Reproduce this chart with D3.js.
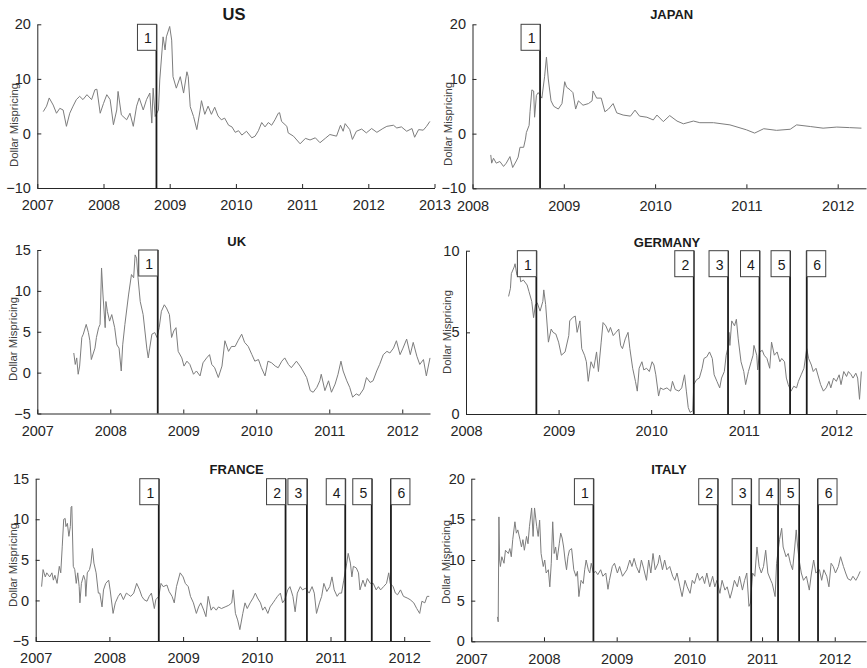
<!DOCTYPE html>
<html>
<head>
<meta charset="utf-8">
<script src="https://cdn.jsdelivr.net/npm/d3@7"></script>
<style>
  body { margin: 0; background: #fff; }
  svg { font-family: "Liberation Sans", Arial, sans-serif; }
</style>
</head>
<body>
<div id="chart"></div>
<script>
// values, [decimal year, dollar mispricing]
const usSeries = [
  [2007.09,4.0],[2007.14,5.0],[2007.18,6.5],[2007.24,5.2],[2007.29,3.7],[2007.34,4.6],[2007.39,4.3],[2007.44,1.3],
  [2007.49,3.7],[2007.54,5.0],[2007.59,6.2],[2007.64,6.8],[2007.69,6.2],[2007.75,7.1],[2007.82,6.2],[2007.87,8.0],
  [2007.90,8.1],[2007.95,3.7],[2008.00,5.5],[2008.05,7.1],[2008.10,6.2],[2008.15,1.6],[2008.20,4.3],[2008.22,7.7],
  [2008.27,3.4],[2008.35,2.5],[2008.40,3.7],[2008.45,1.3],[2008.50,5.0],[2008.54,6.5],[2008.60,4.3],[2008.65,6.2],
  [2008.70,7.4],[2008.73,1.9],[2008.75,8.3],[2008.78,3.1],[2008.83,4.3],[2008.85,9.8],[2008.90,17.7],[2008.93,15.3],
  [2008.95,17.7],[2009.00,19.6],[2009.03,17.1],[2009.05,10.4],[2009.10,8.3],[2009.16,10.4],[2009.21,7.4],[2009.26,11.3],
  [2009.28,10.4],[2009.31,4.9],[2009.36,3.1],[2009.41,0.7],[2009.46,4.3],[2009.48,6.0],[2009.53,3.5],[2009.58,5.0],
  [2009.63,3.5],[2009.68,4.8],[2009.73,3.2],[2009.78,2.5],[2009.83,2.8],[2009.89,1.5],[2009.94,1.2],[2009.99,0.2],
  [2010.04,0.5],[2010.09,-0.3],[2010.16,0.4],[2010.24,-0.8],[2010.29,-0.5],[2010.34,0.5],[2010.39,2.0],[2010.44,1.2],
  [2010.49,2.0],[2010.54,1.5],[2010.59,2.5],[2010.64,3.7],[2010.66,3.8],[2010.69,2.2],[2010.77,1.3],[2010.79,0.1],
  [2010.87,-0.5],[2010.97,-1.9],[2011.05,-0.9],[2011.12,-1.2],[2011.20,-0.8],[2011.27,-1.7],[2011.35,-0.9],[2011.42,-0.2],
  [2011.52,-0.5],[2011.58,1.5],[2011.62,0.4],[2011.65,1.8],[2011.72,0.7],[2011.76,-1.1],[2011.82,0.4],[2011.90,0.8],
  [2011.97,0.1],[2012.05,0.9],[2012.13,0.2],[2012.22,0.9],[2012.28,1.3],[2012.38,1.5],[2012.43,1.0],[2012.50,1.2],
  [2012.58,0.4],[2012.66,0.9],[2012.70,-0.7],[2012.76,0.7],[2012.83,0.6],[2012.88,1.3],[2012.93,2.2]
];
const japanSeries = [
  [2008.20,-3.9],[2008.21,-5.4],[2008.23,-4.5],[2008.26,-5.4],[2008.30,-5.1],[2008.34,-6.0],[2008.37,-5.4],[2008.41,-4.2],
  [2008.44,-6.2],[2008.48,-5.0],[2008.50,-4.3],[2008.52,-2.5],[2008.56,-2.5],[2008.58,-1.0],[2008.59,0.2],[2008.62,1.5],
  [2008.63,4.0],[2008.65,8.0],[2008.67,7.8],[2008.68,3.0],[2008.70,7.0],[2008.72,7.5],[2008.74,7.0],[2008.76,6.5],
  [2008.79,10.5],[2008.81,14.0],[2008.83,10.0],[2008.86,6.0],[2008.89,5.0],[2008.94,4.5],[2008.98,5.5],[2009.01,9.5],
  [2009.03,8.5],[2009.07,8.0],[2009.10,7.5],[2009.13,4.5],[2009.16,6.0],[2009.21,5.2],[2009.27,5.5],[2009.31,6.0],
  [2009.32,7.8],[2009.36,6.5],[2009.41,6.5],[2009.45,4.0],[2009.49,4.5],[2009.54,5.5],[2009.58,3.8],[2009.65,3.4],
  [2009.73,3.2],[2009.78,4.3],[2009.83,3.2],[2009.91,3.0],[2009.98,2.5],[2010.02,3.4],[2010.09,2.2],[2010.16,3.3],
  [2010.24,2.3],[2010.31,1.8],[2010.42,2.3],[2010.49,2.0],[2010.64,2.0],[2010.82,1.6],[2011.00,0.7],[2011.09,0.1],
  [2011.19,0.9],[2011.33,0.6],[2011.48,0.8],[2011.55,1.6],[2011.70,1.3],[2011.84,1.0],[2011.99,1.2],[2012.13,1.1],
  [2012.26,1.0]
];
const ukSeries = [
  [2007.50,2.4],[2007.52,1.0],[2007.54,1.8],[2007.56,-0.2],[2007.58,0.8],[2007.61,4.3],[2007.63,4.7],[2007.67,5.9],
  [2007.70,4.9],[2007.72,3.9],[2007.74,1.6],[2007.79,3.0],[2007.81,4.3],[2007.84,5.5],[2007.86,5.9],[2007.88,12.8],
  [2007.90,9.5],[2007.93,5.5],[2007.94,8.7],[2007.96,7.5],[2007.99,6.3],[2008.02,7.1],[2008.06,5.5],[2008.09,3.4],
  [2008.12,3.0],[2008.15,0.2],[2008.17,3.4],[2008.20,5.9],[2008.25,9.5],[2008.29,12.0],[2008.32,11.6],[2008.34,14.4],
  [2008.36,14.0],[2008.38,11.6],[2008.41,8.7],[2008.45,7.1],[2008.50,3.0],[2008.52,1.8],[2008.54,3.0],[2008.57,4.7],
  [2008.61,4.9],[2008.64,4.3],[2008.67,5.5],[2008.70,7.5],[2008.74,8.3],[2008.77,7.9],[2008.81,7.1],[2008.84,4.3],
  [2008.87,5.1],[2008.90,5.5],[2008.93,2.6],[2008.98,1.8],[2009.01,0.8],[2009.05,1.4],[2009.09,1.0],[2009.14,-0.2],
  [2009.18,0.2],[2009.23,-0.4],[2009.27,1.2],[2009.32,1.8],[2009.36,2.2],[2009.39,1.0],[2009.43,0.6],[2009.48,-0.6],
  [2009.53,0.8],[2009.57,3.9],[2009.62,2.6],[2009.66,3.2],[2009.71,3.2],[2009.75,3.9],[2009.80,4.7],[2009.84,3.7],
  [2009.89,3.2],[2009.94,2.2],[2009.98,1.4],[2010.03,1.6],[2010.07,0.6],[2010.12,-0.4],[2010.16,1.4],[2010.21,1.2],
  [2010.26,0.8],[2010.30,0.6],[2010.35,1.4],[2010.39,1.8],[2010.44,1.0],[2010.48,0.6],[2010.55,1.4],[2010.60,0.8],
  [2010.64,0.2],[2010.69,-0.6],[2010.74,-2.2],[2010.78,-2.4],[2010.83,-1.8],[2010.87,-1.0],[2010.89,-0.2],[2010.94,-2.2],
  [2010.99,-1.0],[2011.03,-2.4],[2011.08,-1.4],[2011.12,-0.2],[2011.16,1.4],[2011.19,0.2],[2011.24,-1.0],[2011.28,-1.8],
  [2011.32,-3.0],[2011.37,-2.6],[2011.41,-2.8],[2011.47,-2.0],[2011.51,-0.6],[2011.56,-1.2],[2011.60,-1.0],[2011.65,0.2],
  [2011.69,1.0],[2011.74,2.2],[2011.79,2.6],[2011.83,2.4],[2011.88,3.0],[2011.92,3.9],[2011.97,2.2],[2012.01,3.0],
  [2012.06,4.1],[2012.11,2.2],[2012.15,3.7],[2012.20,2.0],[2012.24,1.0],[2012.29,1.6],[2012.33,-0.4],[2012.38,1.8]
];
const germanySeries = [
  [2008.46,7.2],[2008.48,7.7],[2008.49,8.6],[2008.52,9.0],[2008.53,9.2],[2008.55,8.5],[2008.58,8.6],[2008.59,8.1],
  [2008.62,8.2],[2008.66,7.9],[2008.68,7.5],[2008.71,6.9],[2008.73,5.9],[2008.75,6.7],[2008.77,6.8],[2008.80,6.3],
  [2008.83,6.9],[2008.84,7.6],[2008.86,6.7],[2008.89,4.4],[2008.92,5.2],[2008.94,5.0],[2008.97,4.9],[2009.00,4.4],
  [2009.03,3.6],[2009.07,3.8],[2009.11,4.8],[2009.12,5.7],[2009.15,5.9],[2009.18,6.0],[2009.20,5.0],[2009.23,5.7],
  [2009.25,4.0],[2009.28,3.6],[2009.30,3.2],[2009.32,2.0],[2009.35,3.2],[2009.38,2.8],[2009.41,3.8],[2009.43,2.6],
  [2009.46,4.4],[2009.48,5.6],[2009.51,5.4],[2009.54,5.0],[2009.56,5.3],[2009.59,4.8],[2009.62,5.0],[2009.65,5.2],
  [2009.67,4.2],[2009.69,4.0],[2009.72,4.6],[2009.75,5.0],[2009.77,4.0],[2009.80,2.8],[2009.83,2.0],[2009.85,1.4],
  [2009.87,2.8],[2009.90,3.2],[2009.92,2.7],[2009.95,2.8],[2009.98,2.6],[2010.01,3.2],[2010.03,3.0],[2010.05,2.4],
  [2010.08,1.1],[2010.10,1.6],[2010.13,1.5],[2010.17,1.6],[2010.21,1.4],[2010.23,2.0],[2010.26,1.5],[2010.30,1.4],
  [2010.33,1.6],[2010.36,2.4],[2010.38,1.4],[2010.40,0.4],[2010.42,0.1],[2010.45,0.2],[2010.46,1.8],[2010.49,2.1],
  [2010.52,2.2],[2010.55,2.8],[2010.57,3.4],[2010.60,3.5],[2010.63,3.8],[2010.66,3.4],[2010.68,2.4],[2010.71,2.0],
  [2010.74,1.6],[2010.76,2.2],[2010.79,2.6],[2010.81,3.6],[2010.83,4.1],[2010.84,5.0],[2010.85,4.2],[2010.87,5.7],
  [2010.90,5.4],[2010.92,5.8],[2010.94,4.6],[2010.97,3.2],[2011.00,2.6],[2011.02,1.8],[2011.05,2.6],[2011.08,3.2],
  [2011.10,3.6],[2011.11,4.2],[2011.14,3.6],[2011.15,2.7],[2011.17,3.8],[2011.20,3.9],[2011.22,3.6],[2011.25,3.4],
  [2011.28,2.8],[2011.30,4.4],[2011.33,3.6],[2011.36,3.8],[2011.39,3.2],[2011.41,3.4],[2011.44,3.2],[2011.46,2.2],
  [2011.48,1.8],[2011.51,1.4],[2011.54,1.7],[2011.57,1.6],[2011.59,2.0],[2011.62,2.4],[2011.65,2.8],[2011.68,4.0],
  [2011.70,3.4],[2011.73,3.0],[2011.75,2.6],[2011.78,2.8],[2011.81,2.2],[2011.83,1.8],[2011.86,1.4],[2011.89,1.6],
  [2011.92,2.0],[2011.94,1.6],[2011.97,2.2],[2012.00,2.0],[2012.03,2.4],[2012.05,1.8],[2012.08,2.6],[2012.11,2.3],
  [2012.13,2.6],[2012.16,2.4],[2012.18,2.2],[2012.21,2.5],[2012.23,2.2],[2012.25,0.9],[2012.27,2.6]
];
const franceSeries = [
  [2007.08,1.7],[2007.10,3.8],[2007.13,2.9],[2007.15,3.4],[2007.19,2.9],[2007.22,3.4],[2007.24,2.5],[2007.26,3.1],
  [2007.29,2.1],[2007.32,4.2],[2007.34,3.4],[2007.36,6.6],[2007.38,10.0],[2007.40,10.1],[2007.41,9.1],[2007.43,9.5],
  [2007.45,7.9],[2007.47,9.1],[2007.48,11.5],[2007.49,11.6],[2007.51,4.2],[2007.53,3.8],[2007.55,2.1],[2007.57,3.4],
  [2007.59,1.7],[2007.60,-0.3],[2007.62,2.1],[2007.65,3.1],[2007.67,2.5],[2007.68,0.5],[2007.70,3.4],[2007.73,3.8],
  [2007.75,4.6],[2007.77,6.4],[2007.79,4.6],[2007.82,3.4],[2007.85,0.9],[2007.87,0.9],[2007.90,-0.8],[2007.92,1.3],
  [2007.95,2.1],[2007.99,2.5],[2008.01,1.3],[2008.05,-1.6],[2008.08,-0.3],[2008.12,0.5],[2008.15,0.9],[2008.19,0.1],
  [2008.23,0.9],[2008.26,0.7],[2008.29,0.5],[2008.33,0.9],[2008.37,2.1],[2008.41,1.3],[2008.44,0.5],[2008.47,0.1],
  [2008.51,-0.1],[2008.54,0.5],[2008.57,0.9],[2008.61,-1.0],[2008.63,0.1],[2008.67,0.5],[2008.70,2.1],[2008.73,1.7],
  [2008.78,1.9],[2008.81,1.1],[2008.85,0.5],[2008.88,-0.3],[2008.91,1.7],[2008.96,3.4],[2009.00,2.9],[2009.03,2.1],
  [2009.07,1.7],[2009.10,0.5],[2009.14,-0.3],[2009.18,-1.6],[2009.21,-0.8],[2009.24,-0.3],[2009.28,-1.2],[2009.31,-2.0],
  [2009.34,0.5],[2009.38,-1.2],[2009.41,-0.8],[2009.45,-1.2],[2009.48,-0.8],[2009.52,-1.0],[2009.57,-0.8],[2009.62,-0.6],
  [2009.66,-0.3],[2009.68,1.3],[2009.71,-1.6],[2009.74,-2.4],[2009.77,-3.6],[2009.81,-1.6],[2009.84,-0.3],[2009.87,-1.0],
  [2009.91,-0.3],[2009.95,0.3],[2009.98,0.9],[2010.01,0.3],[2010.05,-0.3],[2010.08,-1.2],[2010.11,-0.8],[2010.15,-1.6],
  [2010.18,-0.8],[2010.22,-0.3],[2010.25,0.1],[2010.28,0.5],[2010.32,0.9],[2010.35,-0.3],[2010.38,0.1],[2010.42,1.3],
  [2010.45,1.7],[2010.49,0.5],[2010.52,-1.4],[2010.55,0.9],[2010.59,1.7],[2010.62,1.3],[2010.66,1.5],[2010.71,0.9],
  [2010.75,1.7],[2010.78,0.9],[2010.81,-1.6],[2010.85,-0.3],[2010.88,0.5],[2010.91,2.1],[2010.95,1.1],[2010.99,1.7],
  [2011.02,2.9],[2011.05,1.3],[2011.09,0.5],[2011.12,0.9],[2011.15,0.9],[2011.18,2.5],[2011.22,4.6],[2011.24,5.8],
  [2011.27,4.6],[2011.29,2.9],[2011.31,4.2],[2011.35,4.0],[2011.38,3.4],[2011.40,1.3],[2011.44,2.5],[2011.47,1.7],
  [2011.50,2.7],[2011.54,2.1],[2011.58,2.1],[2011.62,1.3],[2011.65,1.7],[2011.68,1.3],[2011.72,1.7],[2011.76,2.1],
  [2011.79,3.4],[2011.81,2.1],[2011.85,1.7],[2011.88,0.9],[2011.91,0.7],[2011.95,1.3],[2011.99,0.5],[2012.04,0.3],
  [2012.08,0.1],[2012.13,-0.3],[2012.17,-1.0],[2012.21,-1.6],[2012.24,-0.1],[2012.28,-0.3],[2012.31,0.5],[2012.34,0.5]
];
const italySeries = [
  [2007.36,3.0],[2007.37,2.4],[2007.38,15.3],[2007.39,10.0],[2007.40,9.2],[2007.42,10.4],[2007.45,9.6],[2007.47,11.2],
  [2007.51,10.8],[2007.53,11.4],[2007.55,10.4],[2007.57,12.5],[2007.60,14.7],[2007.62,13.3],[2007.64,13.7],[2007.67,12.5],
  [2007.69,11.6],[2007.71,12.5],[2007.73,11.2],[2007.76,12.9],[2007.78,12.0],[2007.80,14.1],[2007.83,16.4],[2007.85,12.9],
  [2007.87,16.4],[2007.90,14.1],[2007.92,12.9],[2007.94,14.9],[2007.96,10.8],[2007.99,9.2],[2008.01,10.0],[2008.03,8.4],
  [2008.06,8.8],[2008.08,6.7],[2008.10,9.6],[2008.12,14.7],[2008.14,10.8],[2008.16,11.6],[2008.18,10.0],[2008.21,12.0],
  [2008.23,13.3],[2008.25,12.7],[2008.27,11.6],[2008.29,10.0],[2008.31,8.8],[2008.33,10.4],[2008.35,11.2],[2008.38,11.4],
  [2008.41,8.8],[2008.44,8.0],[2008.46,8.6],[2008.48,5.5],[2008.51,7.5],[2008.54,7.1],[2008.56,8.8],[2008.58,10.0],
  [2008.61,8.8],[2008.63,8.4],[2008.65,9.6],[2008.68,8.4],[2008.71,8.6],[2008.74,8.2],[2008.78,8.8],[2008.81,8.0],
  [2008.85,8.4],[2008.88,6.4],[2008.90,7.5],[2008.94,9.2],[2008.97,9.6],[2009.01,8.4],[2009.04,9.2],[2009.08,8.0],
  [2009.11,8.4],[2009.14,8.8],[2009.18,10.0],[2009.21,9.2],[2009.24,10.2],[2009.27,9.2],[2009.31,8.4],[2009.34,10.0],
  [2009.37,9.0],[2009.41,7.5],[2009.44,10.0],[2009.47,8.4],[2009.50,10.8],[2009.53,8.8],[2009.57,9.6],[2009.59,10.6],
  [2009.63,8.8],[2009.66,10.0],[2009.69,8.8],[2009.73,9.2],[2009.77,8.0],[2009.80,7.5],[2009.83,8.4],[2009.87,6.7],
  [2009.90,5.5],[2009.94,7.5],[2009.97,6.7],[2010.01,5.9],[2010.04,7.5],[2010.07,7.1],[2010.11,8.4],[2010.14,7.5],
  [2010.18,8.0],[2010.21,7.1],[2010.24,8.4],[2010.28,6.7],[2010.32,8.0],[2010.35,6.7],[2010.38,7.5],[2010.42,5.9],
  [2010.45,7.5],[2010.49,6.3],[2010.52,6.7],[2010.56,5.3],[2010.59,6.3],[2010.62,7.5],[2010.66,6.7],[2010.69,8.0],
  [2010.73,6.3],[2010.76,7.5],[2010.79,8.4],[2010.82,4.3],[2010.84,4.7],[2010.87,8.4],[2010.90,8.0],[2010.93,11.6],
  [2010.96,9.2],[2010.99,8.4],[2011.02,9.2],[2011.05,11.2],[2011.08,8.4],[2011.12,7.5],[2011.14,7.1],[2011.18,5.5],
  [2011.20,9.6],[2011.24,12.5],[2011.27,13.9],[2011.29,11.6],[2011.33,10.4],[2011.36,10.8],[2011.39,9.6],[2011.42,8.8],
  [2011.45,11.6],[2011.47,13.7],[2011.49,11.6],[2011.51,10.0],[2011.54,8.4],[2011.57,7.5],[2011.61,8.0],[2011.65,6.3],
  [2011.68,8.4],[2011.71,10.0],[2011.74,8.4],[2011.79,8.8],[2011.82,7.5],[2011.85,8.8],[2011.89,8.0],[2011.92,6.7],
  [2011.95,9.6],[2011.98,9.2],[2012.01,8.4],[2012.05,9.2],[2012.08,10.4],[2012.12,9.2],[2012.15,8.4],[2012.18,7.7],
  [2012.22,7.5],[2012.25,8.0],[2012.29,7.5],[2012.32,8.0],[2012.35,8.6]
];

// event dates (vertical lines) per country
const usEvents = [2008.80];
const japanEvents = [2008.74];
const ukEvents = [2008.65];
const germanyEvents = [2008.76, 2010.46, 2010.83, 2011.17, 2011.50, 2011.68];
const franceEvents = [2008.67, 2010.39, 2010.68, 2011.20, 2011.56, 2011.82];
const italyEvents = [2008.68, 2010.39, 2010.85, 2011.22, 2011.51, 2011.77];
const eventLabels = ["1", "2", "3", "4", "5", "6"];

const titles = ["US", "JAPAN", "UK", "GERMANY", "FRANCE", "ITALY"];
const yLabel = "Dollar Mispricing";

const panels = [
    {title: titles[0], data: usSeries, events: usEvents,
     left: 37.3, right: 434.5, top: 24.3, bottom: 188,
     xDomain: [2007, 2013], yDomain: [-10, 20], yTicks: [-10, 0, 10, 20],
     titleX: 234, titleY: 20, titleSize: 16.5, labX: 14, labY: 125},
    {title: titles[1], data: japanSeries, events: japanEvents,
     left: 472.5, right: 866, top: 24.3, bottom: 188.3,
     xDomain: [2008, 2012.31], yDomain: [-10, 20], yTicks: [-10, 0, 10, 20],
     titleX: 671.7, titleY: 18.7, titleSize: 13, labX: 447.5, labY: 124},
    {title: titles[2], data: ukSeries, events: ukEvents,
     left: 37.3, right: 430, top: 250, bottom: 413.5,
     xDomain: [2007, 2012.38], yDomain: [-5, 15], yTicks: [-5, 0, 5, 10, 15],
     titleX: 236.7, titleY: 246.4, titleSize: 13, labX: 12.5, labY: 339},
    {title: titles[3], data: germanySeries, events: germanyEvents,
     left: 466, right: 866, top: 250.7, bottom: 414,
     xDomain: [2008, 2012.32], yDomain: [0, 10], yTicks: [0, 5, 10],
     titleX: 667, titleY: 247, titleSize: 13, labX: 447, labY: 332},
    {title: titles[4], data: franceSeries, events: franceEvents,
     left: 35.7, right: 430, top: 478.7, bottom: 641,
     xDomain: [2007, 2012.35], yDomain: [-5, 15], yTicks: [-5, 0, 5, 10, 15],
     titleX: 236.7, titleY: 474, titleSize: 13, labX: 12.5, labY: 565},
    {title: titles[5], data: italySeries, events: italyEvents,
     left: 471.3, right: 866, top: 478.7, bottom: 641.3,
     xDomain: [2007, 2012.43], yDomain: [0, 20], yTicks: [0, 5, 10, 15, 20],
     titleX: 669, titleY: 473.7, titleSize: 13, labX: 446, labY: 562}
];

const axisColor = "#262626";
const boxW = 19, boxH = 26;

const svg = d3.select("#chart")
    .append("svg")
    .attr("width", 867)
    .attr("height", 668);

panels.forEach(p => {
    const x = d3.scaleLinear().domain(p.xDomain).range([p.left, p.right]);
    const y = d3.scaleLinear().domain(p.yDomain).range([p.bottom, p.top]);
    const g = svg.append("g");

    // series
    g.append("path")
        .datum(p.data)
        .attr("fill", "none")
        .attr("stroke", "#7d7d7d")
        .attr("stroke-width", 1)
        .attr("stroke-linejoin", "round")
        .attr("d", d3.line().x(d => x(d[0])).y(d => y(d[1])));

    // axes, ticks pointing inward like matlab
    const years = d3.range(Math.ceil(p.xDomain[0]), Math.floor(p.xDomain[1]) + 1);
    const xAxis = g.append("g")
        .attr("transform", `translate(0,${p.bottom})`)
        .call(d3.axisBottom(x).tickValues(years).tickFormat(d3.format("d"))
            .tickSizeInner(-4).tickSizeOuter(0).tickPadding(12));
    const yAxis = g.append("g")
        .attr("transform", `translate(${p.left},0)`)
        .call(d3.axisLeft(y).tickValues(p.yTicks).tickFormat(d3.format("d"))
            .tickSizeInner(-4).tickSizeOuter(0).tickPadding(6.5));

    [xAxis, yAxis].forEach(a => {
        a.attr("font-family", null).attr("font-size", 14.5);
        a.selectAll("path, line").attr("stroke", axisColor).attr("stroke-width", 1);
        a.selectAll("text").attr("fill", axisColor);
    });

    // title
    g.append("text")
        .attr("x", p.titleX)
        .attr("y", p.titleY)
        .attr("text-anchor", "middle")
        .attr("font-weight", "bold")
        .attr("font-size", p.titleSize)
        .attr("fill", "#1a1a1a")
        .text(p.title);

    // y label
    g.append("text")
        .attr("transform", `translate(${p.labX},${p.labY}) rotate(-90)`)
        .attr("text-anchor", "middle")
        .attr("dy", "0.35em")
        .attr("font-size", 11.4)
        .attr("fill", "#404040")
        .text(yLabel);

    // event lines with numbered boxes
    p.events.forEach((e, i) => {
        const ex = x(e);
        g.append("line")
            .attr("x1", ex).attr("x2", ex)
            .attr("y1", p.top).attr("y2", p.bottom)
            .attr("stroke", "#1a1a1a")
            .attr("stroke-width", 1.8);

        // box 6 sits to the right of its line
        const bx = (i === 5) ? ex : ex - boxW;
        g.append("rect")
            .attr("x", bx)
            .attr("y", p.top)
            .attr("width", boxW)
            .attr("height", boxH)
            .attr("fill", "#fff")
            .attr("stroke", "#404040")
            .attr("stroke-width", 1);
        g.append("text")
            .attr("x", bx + boxW / 2 + 1)
            .attr("y", p.top + 19)
            .attr("text-anchor", "middle")
            .attr("font-size", 14)
            .attr("fill", "#1a1a1a")
            .text(eventLabels[i]);
    });
});
</script>
</body>
</html>
